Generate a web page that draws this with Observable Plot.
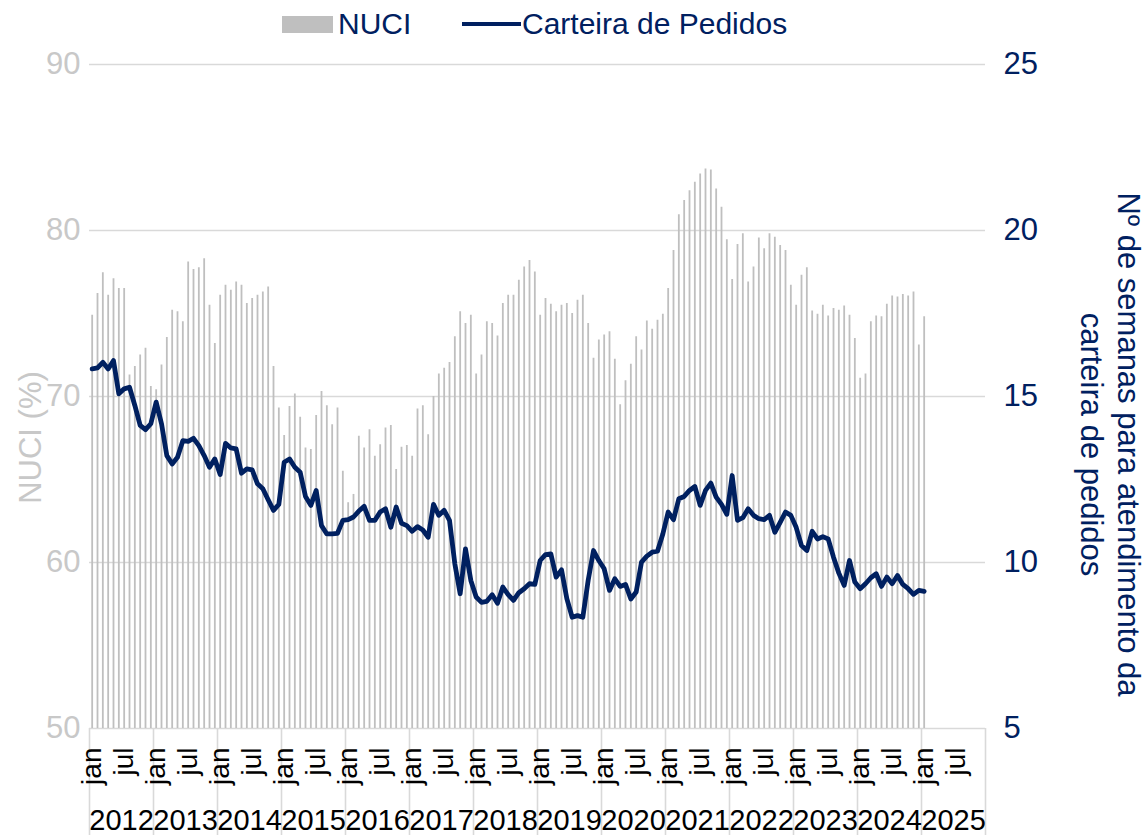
<!DOCTYPE html>
<html>
<head>
<meta charset="utf-8">
<script src="https://cdn.jsdelivr.net/npm/d3@7"></script>
<script src="https://cdn.jsdelivr.net/npm/@observablehq/plot@0.6"></script>
<style>
  html, body { margin: 0; padding: 0; background: #fff; }
  #chart { position: relative; width: 1146px; height: 835px; font-family: "Liberation Sans", Arial, sans-serif; }
  #legend { position: absolute; left: 0; top: 0; width: 1146px; height: 48px; }
  .lg { position: absolute; }
  .lgtext { position: absolute; top: 8px; font-size: 30px; line-height: 32px; color: #002060; white-space: nowrap; }
</style>
</head>
<body>
<div id="chart">
  <div id="legend">
    <div class="lg" style="left:282px;top:16px;width:51px;height:17px;background:#bfbfbf"></div>
    <div class="lgtext" style="left:338px">NUCI</div>
    <div class="lg" style="left:462px;top:22px;width:59px;height:4px;background:#002060"></div>
    <div class="lgtext" style="left:522px">Carteira de Pedidos</div>
  </div>
</div>
<script>
// Months: Jan 2012 .. Jan 2025 (157 monthly observations); axis runs through Dec 2025
const startYear = 2012;
const years = [2012, 2013, 2014, 2015, 2016, 2017, 2018, 2019, 2020, 2021, 2022, 2023, 2024, 2025];
const monthTickLabels = ["jan", "jul"];

// NUCI (%) – left axis
const nuci = [
  74.9, 76.2, 77.45, 76.1, 77.1, 76.5, 76.5, 71.3, 71.8, 72.5, 72.9, 70.6,      // 2012
  70.4, 71.9, 73.55, 75.2, 75.1, 74.5, 78.1, 77.65, 77.75, 78.3, 75.5, 73.2,    // 2013
  76.1, 76.7, 76.4, 76.9, 76.7, 75.6, 75.9, 76.1, 76.3, 76.6, 71.8, 69.3,       // 2014
  67.65, 69.4, 70.15, 68.75, 66.9, 66.8, 68.85, 70.3, 69.45, 68.3, 69.3, 65.5,  // 2015
  63.6, 64.1, 67.6, 66.9, 68.0, 66.4, 67.1, 68.1, 68.25, 65.6, 66.95, 67.05,    // 2016
  66.4, 69.25, 69.45, 67.7, 70.0, 71.35, 71.7, 72.05, 73.6, 75.1, 74.4, 74.9,   // 2017
  71.35, 72.5, 74.5, 74.4, 73.65, 75.6, 76.1, 76.1, 77.0, 77.8, 78.2, 77.5,     // 2018
  74.9, 75.9, 75.55, 75.1, 75.5, 75.6, 75.0, 75.8, 76.1, 74.4, 72.3, 73.4,      // 2019
  73.7, 73.9, 72.25, 69.5, 70.95, 71.95, 73.6, 72.8, 74.55, 74.05, 74.6, 74.95, // 2020
  76.5, 78.8, 80.95, 81.8, 82.4, 82.9, 83.4, 83.7, 83.65, 82.5, 81.4, 79.45,    // 2021
  77.05, 79.15, 79.8, 76.9, 77.8, 79.55, 78.9, 79.8, 79.6, 79.1, 78.8, 76.7,    // 2022
  75.5, 77.3, 77.75, 75.15, 74.95, 75.5, 74.85, 75.3, 75.2, 75.45, 74.9, 73.5,  // 2023
  71.1, 71.35, 74.5, 74.85, 74.8, 75.55, 76.05, 76.0, 76.15, 76.05, 76.3, 73.1, // 2024
  74.8                                                                           // 2025
];

// Carteira de Pedidos (nº de semanas) – right axis
const carteira = [
  15.83, 15.86, 16.03, 15.83, 16.08, 15.08, 15.23, 15.28, 14.73, 14.13, 14.0, 14.18,   // 2012
  14.83, 14.18, 13.22, 12.97, 13.17, 13.67, 13.65, 13.74, 13.52, 13.22, 12.87, 13.12,  // 2013
  12.65, 13.59, 13.45, 13.42, 12.69, 12.82, 12.79, 12.37, 12.22, 11.89, 11.57, 11.75,  // 2014
  13.02, 13.12, 12.87, 12.72, 11.99, 11.72, 12.17, 11.11, 10.86, 10.86, 10.88, 11.27,  // 2015
  11.29, 11.37, 11.55, 11.69, 11.27, 11.27, 11.52, 11.62, 11.06, 11.67, 11.18, 11.11,  // 2016
  10.94, 11.08, 10.98, 10.76, 11.75, 11.42, 11.57, 11.27, 9.96, 9.06, 10.41, 9.46,     // 2017
  8.96, 8.80, 8.83, 9.03, 8.77, 9.26, 9.03, 8.86, 9.09, 9.21, 9.36, 9.34,              // 2018
  10.06, 10.24, 10.26, 9.56, 9.78, 8.91, 8.35, 8.40, 8.35, 9.46, 10.36, 10.06,         // 2019
  9.81, 9.16, 9.51, 9.28, 9.34, 8.90, 9.11, 10.01, 10.19, 10.31, 10.34, 10.86,         // 2020
  11.52, 11.29, 11.92, 11.99, 12.17, 12.29, 11.72, 12.17, 12.39, 11.97, 11.75, 11.45,  // 2021
  12.62, 11.27, 11.35, 11.62, 11.42, 11.32, 11.29, 11.42, 10.91, 11.21, 11.52, 11.42,  // 2022
  11.06, 10.51, 10.36, 10.94, 10.71, 10.78, 10.71, 10.16, 9.68, 9.31, 10.06, 9.41,     // 2023
  9.21, 9.36, 9.54, 9.66, 9.28, 9.56, 9.36, 9.61, 9.34, 9.21, 9.04, 9.16,              // 2024
  9.13                                                                                  // 2025
];

const leftTicks = [50, 60, 70, 80, 90];
const rightTicks = [5, 10, 15, 20, 25];
const leftTitle = "NUCI (%)";
const rightTitle = "Nº de semanas para atendimento da\ncarteira de pedidos";

// map right-axis values onto the left-axis domain (5→50, 25→90)
const toLeft = v => 50 + (v - 5) * 2;

const rows = nuci.map((v, i) => ({i, nuci: v, carteira: carteira[i]}));
const nMonths = years.length * 12;
const monthTicks = [];
for (let k = 0; k < years.length; k++) {
  monthTicks.push({i: k * 12, label: monthTickLabels[0]});
  monthTicks.push({i: k * 12 + 6, label: monthTickLabels[1]});
}
const yearBounds = d3.range(years.length + 1).map(k => k * 12 - 0.5);

const navy = "#002060";
const grey = "#bfbfbf";

const chart = Plot.plot({
  width: 1146,
  height: 835,
  marginTop: 64,
  marginBottom: 107,
  marginLeft: 89,
  marginRight: 161,
  style: {fontFamily: "'Liberation Sans', Arial, sans-serif", background: "white", overflow: "visible"},
  x: {type: "linear", domain: [-0.5, nMonths - 0.5], axis: null},
  y: {domain: [50, 90], axis: null},
  marks: [
    Plot.gridY(leftTicks, {stroke: "#d9d9d9", strokeOpacity: 1, strokeWidth: 1.6}),
    Plot.axisX(yearBounds, {tickSize: 107, tickFormat: () => "", stroke: "#d9d9d9", strokeWidth: 1.6, label: null}),
    Plot.ruleX(rows, {x: "i", y1: 50, y2: "nuci", stroke: grey, strokeWidth: 1.8}),
    Plot.line(rows, {x: "i", y: d => toLeft(d.carteira), stroke: navy, strokeWidth: 4.8, strokeLinejoin: "round", strokeLinecap: "round"}),
    Plot.axisY(leftTicks, {anchor: "left", tickSize: 0, tickPadding: 9, fontSize: 31, color: "#c8c8c8", label: null}),
    Plot.axisY(leftTicks, {anchor: "right", tickSize: 0, tickPadding: 18, fontSize: 31, color: navy, label: null,
      tickFormat: d => rightTicks[leftTicks.indexOf(d)]}),
    Plot.text(monthTicks, {x: "i", text: "label", frameAnchor: "bottom", rotate: -90, textAnchor: "end", lineAnchor: "middle", dy: 19, fontSize: 28, fill: "black"}),
    Plot.text(years, {x: (d, k) => k * 12 + 5.5, text: d => String(d), frameAnchor: "bottom", lineAnchor: "middle", dy: 92, fontSize: 29, fill: "black"}),
    Plot.text([leftTitle], {frameAnchor: "left", rotate: -90, dx: -58, dy: 41, fontSize: 31, fill: "#c8c8c8", textAnchor: "middle", lineAnchor: "middle"}),
    Plot.text([rightTitle], {frameAnchor: "right", rotate: 90, dx: 126, dy: 48, fontSize: 31, fill: navy, textAnchor: "middle", lineAnchor: "middle", lineHeight: 1.2})
  ]
});
document.getElementById("chart").prepend(chart);
</script>
</body>
</html>
